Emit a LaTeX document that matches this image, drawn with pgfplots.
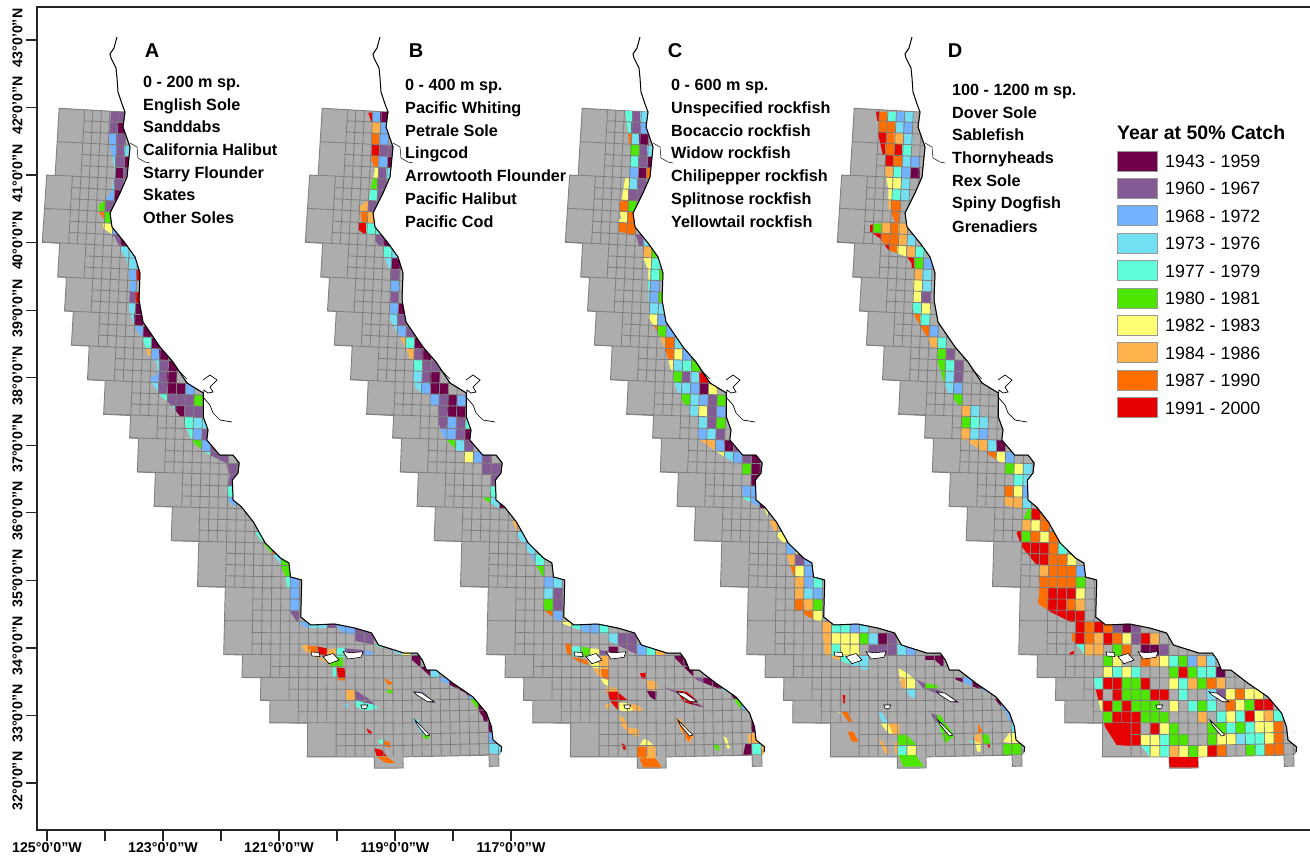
\documentclass[border=0pt]{standalone}
\usepackage{pgfplots}
\usepackage{pgfplotstable}
\usepackage{fontspec}
\setmainfont{Liberation Sans}
\pgfplotsset{compat=1.18}
\definecolor{c0}{HTML}{6E0049}\definecolor{c1}{HTML}{835A94}\definecolor{c2}{HTML}{73B2FF}
\definecolor{c3}{HTML}{73DFF2}\definecolor{c4}{HTML}{5FFFDC}\definecolor{c5}{HTML}{4CE600}
\definecolor{c6}{HTML}{FFFF73}\definecolor{c7}{HTML}{FFB24C}\definecolor{c8}{HTML}{FF6E00}
\definecolor{c9}{HTML}{E60000}\definecolor{gf}{HTML}{ADADAD}\definecolor{gl}{HTML}{808080}
\pgfdeclareplotmark{cell}{\pgfpathrectangle{\pgfpoint{-4.9pt}{-5.7pt}}{\pgfpoint{9.8pt}{11.4pt}}\pgfusepathqfill}
\def\PX{349+(4817+11.23*\thisrow{r})*sin(deg((\thisrow{c}-4.35)*0.001752))}
\def\PY{-4700+(4817+11.23*\thisrow{r})*cos(deg((\thisrow{c}-4.35)*0.001752))}
\def\CX{349+(4817+11.23*(\thisrow{r}+0.5))*sin(deg((\thisrow{c}+0.5-4.35)*0.001752))}
\def\CY{-4700+(4817+11.23*(\thisrow{r}+0.5))*cos(deg((\thisrow{c}+0.5-4.35)*0.001752))}
\pgfplotsset{panelax/.style={scale only axis,width=515pt,height=860pt,xmin=0,xmax=515,ymin=0,ymax=860,y dir=reverse,anchor=south west,hide axis,clip=false}}
\pgfplotstableread[row sep=crcr]{c r\\
-30 0\\-20 0\\-5 0\\10 0\\22 0\\0 2000\\-27 1\\-20 1\\-5 1\\10 1\\22 1\\0 2000\\-27 2\\-20 2\\-5 2\\10 2\\22 2\\0 2000\\
-30 3\\-20 3\\-5 3\\10 3\\22 3\\0 2000\\-27 4\\-20 4\\-5 4\\10 4\\22 4\\0 2000\\-27 5\\-20 5\\-5 5\\10 5\\22 5\\0 2000\\
-31 6\\-20 6\\-5 6\\10 6\\22 6\\0 2000\\-28 7\\-20 7\\-5 7\\10 7\\22 7\\0 2000\\-28 8\\-20 8\\-5 8\\10 8\\22 8\\0 2000\\
-31 9\\-20 9\\-5 9\\10 9\\22 9\\0 2000\\-28 10\\-20 10\\-5 10\\10 10\\22 10\\0 2000\\-28 11\\-20 11\\-5 11\\10 11\\22 11\\0 2000\\
-31 12\\-20 12\\-5 12\\10 12\\22 12\\0 2000\\-26 13\\-20 13\\-5 13\\10 13\\22 13\\0 2000\\-26 14\\-20 14\\-5 14\\10 14\\22 14\\0 2000\\
-29 15\\-20 15\\-5 15\\10 15\\22 15\\0 2000\\-25 16\\-20 16\\-5 16\\10 16\\22 16\\0 2000\\-25 17\\-20 17\\-5 17\\10 17\\22 17\\0 2000\\
-28 18\\-20 18\\-5 18\\10 18\\22 18\\0 2000\\-24 19\\-20 19\\-5 19\\10 19\\22 19\\0 2000\\-24 20\\-20 20\\-5 20\\10 20\\22 20\\0 2000\\
-27 21\\-20 21\\-5 21\\10 21\\22 21\\0 2000\\-22 22\\-20 22\\-5 22\\10 22\\22 22\\0 2000\\-22 23\\-20 23\\-5 23\\10 23\\22 23\\0 2000\\
-25 24\\-20 24\\-5 24\\10 24\\22 24\\0 2000\\-20 25\\-5 25\\10 25\\22 25\\0 2000\\-20 26\\-5 26\\10 26\\22 26\\0 2000\\
-23 27\\-5 27\\10 27\\22 27\\0 2000\\-17 28\\-5 28\\10 28\\22 28\\0 2000\\-20 29\\-5 29\\10 29\\22 29\\0 2000\\
-16 30\\-5 30\\10 30\\22 30\\0 2000\\-16 31\\-5 31\\10 31\\22 31\\0 2000\\-19 32\\-5 32\\10 32\\22 32\\0 2000\\
-14 33\\-5 33\\10 33\\22 33\\0 2000\\-14 34\\-5 34\\10 34\\22 34\\0 2000\\-17 35\\-5 35\\10 35\\22 35\\0 2000\\
-12 36\\-5 36\\10 36\\22 36\\0 2000\\-12 37\\-5 37\\10 37\\22 37\\0 2000\\-15 38\\-5 38\\10 38\\22 38\\0 2000\\
-9 39\\-5 39\\10 39\\22 39\\0 2000\\-9 40\\-5 40\\10 40\\22 40\\0 2000\\-9 41\\-5 41\\10 41\\22 41\\0 2000\\
-12 42\\-5 42\\10 42\\22 42\\0 2000\\-6 43\\10 43\\22 43\\0 2000\\-6 44\\10 44\\22 44\\0 2000\\
-9 45\\10 45\\22 45\\0 2000\\-6 46\\10 46\\22 46\\0 2000\\-6 47\\10 47\\22 47\\0 2000\\
-9 48\\10 48\\22 48\\0 2000\\-4 49\\10 49\\22 49\\0 2000\\-7 50\\10 50\\22 50\\0 2000\\
-2 51\\10 51\\22 51\\0 2000\\-5 52\\10 52\\22 52\\0 2000\\-1 53\\10 53\\22 53\\0 2000\\
-4 54\\10 54\\22 54\\0 2000\\3 55\\10 55\\22 55\\0 2000\\3 56\\10 56\\22 56\\0 2000\\0 57\\10 57\\22 57\\0 2000\\
-28 6\\-28 12\\0 2000\\-27 0\\-27 12\\0 2000\\-26 0\\-26 15\\0 2000\\-25 0\\-25 18\\0 2000\\-24 0\\-24 21\\0 2000\\-23 0\\-23 21\\0 2000\\
-22 0\\-22 24\\0 2000\\-21 0\\-21 24\\0 2000\\-20 0\\-20 27\\0 2000\\-19 0\\-19 27\\0 2000\\-18 0\\-18 27\\0 2000\\-17 0\\-17 29\\0 2000\\
-16 0\\-16 32\\0 2000\\-15 0\\-15 32\\0 2000\\-14 0\\-14 35\\0 2000\\-13 0\\-13 35\\0 2000\\-12 0\\-12 38\\0 2000\\-11 0\\-11 38\\0 2000\\
-10 0\\-10 38\\0 2000\\-9 0\\-9 42\\0 2000\\-8 0\\-8 42\\0 2000\\-7 0\\-7 42\\0 2000\\-6 0\\-6 48\\0 2000\\-5 0\\-5 48\\0 2000\\
-4 0\\-4 50\\0 2000\\-3 0\\-3 50\\0 2000\\-2 0\\-2 52\\0 2000\\-1 0\\-1 54\\0 2000\\0 0\\0 54\\0 2000\\1 0\\1 54\\0 2000\\2 0\\2 54\\0 2000\\
3 0\\3 57\\0 2000\\4 0\\4 57\\0 2000\\5 0\\5 57\\0 2000\\6 0\\6 57\\0 2000\\7 0\\7 57\\0 2000\\8 0\\8 57\\0 2000\\9 0\\9 57\\0 2000\\10 0\\10 57\\0 2000\\
11 0\\11 57\\0 2000\\12 0\\12 57\\0 2000\\13 0\\13 57\\0 2000\\14 0\\14 57\\0 2000\\15 0\\15 57\\0 2000\\16 0\\16 57\\0 2000\\17 0\\17 57\\0 2000\\18 0\\18 57\\0 2000\\19 0\\19 57\\0 2000\\20 0\\20 57\\0 2000\\
}\gridtab
% cells: column, row, class
\pgfplotstableread[row sep=crcr]{c r k\\
-24 0 1\\-23 0 1\\-24 1 1\\-23 1 0\\-24 2 2\\-23 2 1\\-24 3 2\\-23 3 1\\-22 3 3\\-24 4 3\\-23 4 1\\-22 4 0\\-24 5 3\\-23 5 0\\-22 5 1\\-24 6 3\\-23 6 1\\-24 7 2\\-23 7 0\\
-25 8 5\\-24 8 1\\-23 8 1\\-25 9 8\\-24 9 5\\-24 10 6\\-23 10 2\\-24 11 3\\-23 11 1\\-22 11 0\\-22 12 3\\-21 12 3\\-22 13 3\\-21 13 3\\-21 14 2\\-20 14 9\\-21 15 2\\-21 16 1\\-20 16 9\\-21 17 3\\-20 17 0\\-21 18 3\\-20 18 0\\
-20 19 2\\-19 19 0\\-20 20 7\\-19 20 4\\-18 20 0\\-19 21 7\\-18 21 2\\-17 21 0\\-16 21 1\\-18 22 3\\-17 22 1\\-16 22 0\\-18 23 2\\-17 23 1\\-16 23 0\\-18 24 3\\-17 24 1\\-16 24 0\\-15 24 0\\-14 24 2\\
-17 25 4\\-16 25 1\\-15 25 1\\-14 25 1\\-13 25 5\\-16 26 3\\-15 26 0\\-14 26 1\\-13 26 1\\-14 27 4\\-13 27 3\\-12 27 3\\-14 28 4\\-13 28 2\\-12 28 1\\-13 29 5\\-12 29 2\\-11 29 1\\-12 30 4\\-11 30 1\\-10 30 1\\-10 31 1\\-9 31 1\\-8 31 1\\-9 32 1\\-8 32 1\\-9 33 4\\-9 34 2\\
-6 37 4\\-5 38 5\\-4 38 8\\-4 39 3\\-3 39 5\\-3 40 5\\-3 41 4\\-2 41 2\\-2 42 2\\-2 43 2\\-3 44 1\\-2 44 1\\-1 45 2\\0 45 3\\1 45 3\\2 45 1\\3 45 2\\4 45 2\\5 45 1\\6 45 1\\5 46 1\\6 46 1\\6 47 1\\7 47 4\\9 47 3\\10 47 6\\11 48 0\\11 49 0\\12 49 0\\13 49 3\\14 50 2\\15 50 0\\16 51 0\\17 51 2\\17 52 5\\18 52 0\\18 53 0\\19 54 0\\19 55 2\\19 56 3\\20 56 3\\
}\cellsA
\pgfplotstableread[row sep=crcr]{c r k\\
-25 0 9\\-24 0 2\\-23 0 0\\-24 1 7\\-23 1 2\\-24 2 8\\-23 2 2\\-24 3 9\\-23 3 1\\-22 3 1\\-24 4 8\\-23 4 2\\-22 4 0\\-24 5 6\\-23 5 1\\-22 5 3\\-24 6 5\\-23 6 1\\-24 7 4\\-23 7 1\\-25 8 7\\-24 8 1\\-23 8 1\\-25 9 8\\-24 9 7\\-25 10 9\\-24 10 4\\-23 10 4\\-23 11 1\\-22 11 0\\-22 12 4\\-21 12 3\\-22 13 3\\-21 13 0\\-21 14 1\\-21 15 2\\-21 16 1\\-21 17 2\\-20 17 0\\-21 18 3\\-20 18 1\\-21 19 3\\-20 19 2\\-19 19 1\\-20 20 7\\-19 20 4\\-18 20 0\\-19 21 7\\-18 21 1\\-17 21 0\\-18 22 4\\-17 22 1\\-16 22 1\\-18 23 3\\-17 23 1\\-16 23 0\\-18 24 3\\-17 24 2\\-16 24 0\\-15 24 0\\
-16 25 2\\-15 25 1\\-14 25 0\\-13 25 2\\-15 26 1\\-14 26 0\\-13 26 0\\-15 27 1\\-14 27 2\\-13 27 1\\-12 27 4\\-15 28 2\\-14 28 2\\-13 28 1\\-12 28 0\\-14 29 5\\-13 29 3\\-12 29 1\\-12 30 6\\-11 30 2\\-10 30 1\\-10 31 1\\-9 31 1\\-8 31 1\\-9 32 1\\-8 32 1\\-9 33 4\\-10 34 5\\-9 34 3\\-8 34 0\\-7 36 7\\-6 37 3\\-5 38 3\\-6 39 8\\-5 39 2\\-4 39 4\\-4 40 5\\-3 41 2\\-2 41 3\\-3 42 3\\-2 42 1\\-3 43 5\\-2 43 1\\-3 44 8\\-2 44 2\\-1 45 6\\0 45 4\\1 45 2\\2 45 2\\3 45 4\\4 46 3\\5 46 1\\6 46 1\\5 47 1\\6 47 1\\7 47 2\\8 47 4\\9 47 7\\11 48 0\\12 48 0\\12 49 0\\13 50 1\\14 50 0\\15 50 0\\16 51 3\\17 51 0\\17 52 5\\18 52 2\\19 53 0\\19 54 0\\19 55 7\\18 56 0\\19 56 4\\20 56 7\\
}\cellsB
\pgfplotstableread[row sep=crcr]{c r k\\
-25 0 4\\-24 0 1\\-23 0 3\\-25 1 4\\-24 1 1\\-23 1 2\\-25 2 8\\-24 2 3\\-23 2 0\\-24 3 5\\-23 3 1\\-22 3 3\\-24 4 4\\-23 4 1\\-22 4 0\\-24 5 2\\-23 5 0\\-22 5 8\\-25 6 6\\-24 6 3\\-23 6 1\\-25 7 6\\-24 7 1\\-23 7 1\\-25 8 8\\-24 8 5\\-25 9 6\\-24 9 8\\-25 10 8\\-24 10 8\\-23 11 1\\-22 11 3\\-22 12 7\\-21 12 5\\-22 13 6\\-21 13 4\\-22 14 6\\-21 14 4\\-20 14 5\\-22 15 4\\-21 15 2\\-22 16 4\\-21 16 2\\-20 16 5\\-21 17 3\\-20 17 3\\-21 18 6\\-20 18 2\\-21 19 8\\-20 19 5\\-19 19 2\\-20 20 7\\-19 20 8\\-18 20 3\\-19 21 8\\-18 21 6\\-17 21 2\\-16 21 5\\-19 22 6\\-18 22 3\\-17 22 4\\-16 22 5\\-18 23 5\\-17 23 1\\-16 23 3\\-15 23 9\\-18 24 3\\-17 24 3\\-16 24 2\\-15 24 0\\-14 24 6\\
-17 25 5\\-16 25 3\\-15 25 2\\-14 25 1\\-13 25 5\\-16 26 3\\-15 26 6\\-14 26 1\\-13 26 2\\-15 27 3\\-14 27 1\\-13 27 5\\-15 28 2\\-14 28 3\\-13 28 1\\-15 29 7\\-14 29 7\\-13 29 2\\-12 29 0\\-11 29 1\\-13 30 6\\-12 30 3\\-11 30 2\\-10 30 1\\-9 30 0\\-10 31 5\\-9 31 0\\-9 32 0\\-8 32 1\\
-10 33 2\\-9 33 2\\-10 34 4\\-9 34 2\\-8 34 0\\-8 35 6\\-7 36 7\\-6 37 6\\-5 38 2\\-4 38 6\\-5 39 7\\-4 39 1\\-3 39 2\\-5 40 8\\-4 40 6\\-3 40 2\\-4 41 7\\-3 41 2\\-2 41 4\\-4 42 7\\-3 42 3\\-2 42 2\\-4 43 8\\-3 43 7\\-2 43 5\\-3 44 8\\-2 44 6\\-1 45 7\\0 45 4\\1 45 4\\2 45 2\\3 45 3\\-1 46 7\\0 46 6\\1 46 6\\2 46 6\\3 46 5\\4 46 3\\5 46 0\\6 46 1\\-1 47 7\\0 47 4\\1 47 6\\2 47 6\\4 47 1\\5 47 1\\6 47 1\\7 47 3\\8 47 2\\0 48 7\\1 48 4\\2 48 3\\3 48 3\\10 48 0\\11 48 0\\2 49 7\\3 49 3\\3 50 6\\4 50 7\\13 50 0\\14 50 2\\15 50 0\\4 51 3\\5 51 5\\16 51 2\\17 52 0\\18 52 2\\18 53 2\\19 54 3\\19 55 6\\18 56 5\\19 56 5\\
}\cellsC
\pgfplotstableread[row sep=crcr]{c r k\\
-28 0 9\\-27 0 8\\-26 0 4\\-25 0 2\\-24 0 3\\-27 1 8\\-26 1 8\\-25 1 3\\-24 1 2\\-27 2 9\\-26 2 8\\-25 2 7\\-24 2 3\\-27 3 9\\-26 3 8\\-25 3 9\\-24 3 4\\-26 4 9\\-25 4 8\\-24 4 3\\-23 4 2\\-26 5 7\\-25 5 4\\-24 5 2\\-23 5 0\\-26 6 6\\-25 6 6\\-24 6 3\\-26 7 6\\-25 7 4\\-24 7 3\\-26 8 7\\-25 8 8\\-25 9 8\\-28 10 9\\-27 10 5\\-26 10 7\\-25 10 8\\-24 10 7\\-27 11 9\\-26 11 8\\-25 11 8\\-24 11 7\\-23 11 3\\-26 12 9\\-25 12 8\\-24 12 6\\-23 12 7\\-22 12 4\\
-23 13 9\\-22 13 5\\-21 13 2\\-22 14 7\\-21 14 3\\-22 15 6\\-21 15 3\\-22 16 6\\-21 16 1\\-22 17 4\\-21 17 6\\-22 18 8\\-21 18 4\\-21 19 8\\-20 19 2\\-20 20 7\\-19 20 4\\-19 21 5\\-18 21 1\\-19 22 5\\-18 22 4\\-17 22 1\\-19 23 5\\-18 23 3\\-17 23 1\\-18 24 3\\-17 24 2\\-17 25 5\\-16 26 7\\-15 26 3\\-16 27 5\\-15 27 4\\-14 27 3\\-16 28 7\\-15 28 3\\-14 28 2\\-15 29 7\\-14 29 7\\-13 29 3\\-12 29 0\\-13 30 8\\-12 30 6\\-11 30 2\\-11 31 5\\-10 31 6\\-9 31 3\\-10 32 4\\-9 32 3\\
-11 33 8\\-10 33 6\\-9 33 2\\-11 34 7\\-10 34 7\\-9 34 3\\-9 35 5\\-8 35 9\\-7 35 8\\-9 36 7\\-8 36 6\\-7 36 8\\-10 37 9\\-9 37 5\\-8 37 8\\-7 37 6\\-6 37 8\\-9 38 9\\-8 38 9\\-7 38 9\\-6 38 8\\-5 38 4\\-9 39 9\\-8 39 9\\-7 39 9\\-6 39 8\\-5 39 8\\-4 39 6\\-7 40 7\\-6 40 8\\-5 40 8\\-4 40 8\\-3 40 2\\-7 41 8\\-6 41 8\\-5 41 8\\-4 41 8\\-3 41 5\\-7 42 8\\-6 42 9\\-5 42 9\\-4 42 9\\-3 42 6\\-7 43 8\\-6 43 9\\-5 43 9\\-4 43 8\\-3 43 7\\-6 44 9\\-5 44 9\\-4 44 9\\-3 44 9\\
-3 45 9\\-2 45 8\\-1 45 9\\0 45 8\\1 45 1\\2 45 0\\3 45 1\\-4 46 8\\-3 46 9\\-2 46 8\\-1 46 7\\0 46 9\\1 46 8\\2 46 6\\3 46 1\\4 46 9\\5 46 7\\-3 47 4\\-2 47 7\\-1 47 7\\1 47 5\\2 47 8\\4 47 0\\5 47 0\\6 47 1\\0 48 5\\1 48 6\\4 48 8\\5 48 7\\6 48 6\\7 48 4\\8 48 5\\9 48 2\\10 48 7\\11 48 3\\0 49 6\\1 49 4\\2 49 6\\3 49 4\\7 49 5\\8 49 9\\9 49 5\\10 49 4\\11 49 4\\12 49 0\\
-1 50 4\\0 50 9\\1 50 9\\2 50 5\\3 50 5\\4 50 9\\7 50 6\\8 50 4\\9 50 7\\10 50 5\\11 50 8\\12 50 7\\-1 51 9\\1 51 9\\2 51 5\\3 51 5\\4 51 5\\5 51 9\\6 51 9\\8 51 4\\11 51 3\\12 51 1\\13 51 6\\14 51 8\\15 51 6\\16 51 6\\-1 52 6\\0 52 9\\1 52 5\\2 52 9\\3 52 5\\4 52 5\\5 52 5\\7 52 6\\9 52 4\\10 52 5\\11 52 4\\13 52 8\\14 52 6\\15 52 5\\16 52 9\\17 52 9\\
0 53 5\\1 53 9\\2 53 9\\3 53 9\\4 53 5\\5 53 5\\6 53 5\\10 53 7\\12 53 4\\13 53 6\\14 53 4\\15 53 9\\16 53 6\\17 53 7\\18 53 4\\0 54 9\\1 54 9\\2 54 9\\3 54 9\\5 54 9\\6 54 6\\7 54 5\\11 54 5\\12 54 5\\13 54 4\\14 54 5\\15 54 4\\16 54 6\\17 54 6\\18 54 8\\0 55 9\\1 55 9\\2 55 9\\3 55 9\\4 55 6\\5 55 6\\6 55 4\\7 55 5\\8 55 5\\11 55 5\\12 55 6\\13 55 6\\14 55 3\\15 55 4\\16 55 4\\17 55 6\\18 55 8\\1 56 9\\2 56 9\\4 56 4\\5 56 6\\6 56 4\\7 56 7\\8 56 6\\9 56 5\\10 56 6\\11 56 9\\12 56 8\\15 56 5\\16 56 4\\17 56 8\\18 56 8\\7 57 9\\8 57 9\\9 57 9\\
}\cellsD
\def\coastpath{-- (501,752) -- (501.7,747) -- (493,740) -- (491.5,727) -- (486.5,713) -- (473,697) -- (452.7,683) -- (435.8,670) -- (426.4,670) -- (422.3,660) -- (417.2,653) -- (403.7,653) -- (378.4,645) -- (371.6,633) -- (354.7,628) -- (334.5,624) -- (310.8,625) -- (300.7,617) -- (301.7,580) -- (290.5,577) -- (288.9,563) -- (280.4,558) -- (265.2,543) -- (253.4,522) -- (241.6,507) -- (233,500) -- (232.4,480) -- (238,473) -- (239.2,463) -- (233,455) -- (219.6,455) -- (206.8,440) -- (208,430) -- (203.3,417) -- (203.3,393) -- (187,383) -- (173,362) -- (160,347) -- (143,322) -- (139,300) -- (140,273) -- (135,257) -- (125,243) -- (112,227) -- (110,213) -- (120,193) -- (127,177) -- (130,147) -- (123,127) -- (125,112)}
\def\bandA{(111,112) -- (110,127) -- (109,133) -- (110,147) -- (113,160) -- (115,173) -- (112,190) -- (106,200) -- (98.7,205) -- (99.3,213) -- (105,220) -- (101.7,227) -- (110,233) -- (115,237) -- (120,248) -- (128,263) -- (130,283) -- (129,310) -- (135,328) -- (143,340) -- (148,355) -- (157,363) -- (157,375) -- (150,377) -- (152,383) -- (160,395) -- (173,407) -- (183,420) -- (192.6,442) -- (206,453) -- (226,463) -- (230,475) -- (224.7,498) -- (233,505) -- (243,508) -- (253,527) -- (257,535) -- (265,545) -- (275,557) -- (280,563) -- (285.5,577) -- (289,597) -- (289,610) -- (297,622) -- (307,628) -- (338,628) -- (351,640) -- (375,645) -- (402,655) -- (412,660) -- (425.7,672) -- (432,678) -- (446,683) -- (466,693) -- (483,717) -- (486,733) -- (481,747) -- (489,753) -- (499,754)}
\def\bandB{(105.3,112.7) -- (108.7,123.3) -- (108.7,160) -- (112,170) -- (105.3,200) -- (97,206.7) -- (98.7,221.7) -- (88.7,225) -- (100.3,233.3) -- (112,240) -- (118.7,250) -- (125.3,266.7) -- (127.7,290) -- (127,320) -- (137,336.7) -- (145.3,353.3) -- (150.3,376.7) -- (152,386.7) -- (170.3,406.7) -- (180.3,436.7) -- (197,453.3) -- (222,500) -- (233.7,506.7) -- (250.3,521.7) -- (255.3,536.7) -- (268.7,556.7) -- (280.3,578.3) -- (280.3,610) -- (298.7,623.3) -- (343.7,640) -- (375.3,655) -- (412,658) -- (433.7,680) -- (467,693) -- (480.3,713) -- (483.7,736.7) -- (480.3,755) -- (500.3,755)}
\def\bandC{(102,110.7) -- (105.3,133.3) -- (107,156.7) -- (102,180) -- (98.7,200) -- (94.3,207.3) -- (98.7,218.3) -- (87,223.3) -- (97,231.7) -- (113.7,236.7) -- (117,250) -- (125.3,270) -- (125.3,316.7) -- (135.3,333.3) -- (143.7,353.3) -- (148.7,373.3) -- (153.7,390) -- (170.3,420) -- (177,440) -- (193.7,451.7) -- (217,466.7) -- (220.3,498.3) -- (242,510) -- (247,521.7) -- (252,533.3) -- (260.3,543.3) -- (267,565) -- (272,580) -- (272,610) -- (298.7,623.3) -- (302,655) -- (342,670) -- (373.7,660) -- (412,660) -- (433.7,680) -- (467,693.3) -- (483.7,713.3) -- (487,726.7) -- (480.3,743.3) -- (480.3,755) -- (500.3,755)}
\def\bandD{(81,111.7) -- (82.3,121.7) -- (83.3,135) -- (88.3,156.7) -- (90,170) -- (93.3,190) -- (93.3,206.7) -- (100,221.7) -- (85,223.3) -- (75,225) -- (75,231.7) -- (85,238.3) -- (93.3,250) -- (111.7,256.7) -- (116.7,263.3) -- (115.7,300) -- (120,316.7) -- (131.7,336.7) -- (140,353) -- (148.3,380) -- (153.3,393) -- (165,406.7) -- (165,440) -- (178,445) -- (205,462) -- (208,497) -- (210,505) -- (225,510) -- (233.3,508.3) -- (221.7,533.3) -- (226.7,546.7) -- (241.7,565) -- (245,586.7) -- (240,601.7) -- (255,611.7) -- (278.3,623.3) -- (276.7,640) -- (286.7,650) -- (298.3,678.3) -- (301.7,693.3) -- (310,726.7) -- (321.7,745) -- (346.7,746.7) -- (355,756.7) -- (373.3,756.7) -- (375,767.3) -- (403.3,767.3) -- (403.3,756.7) -- (490,755) -- (500,746.7)}
\newcommand\pa[2]{\addplot[fill=c#1,draw=none] table[row sep=crcr,x expr=\zox+\thisrow{x}/\zsx,y expr=\zoy+\thisrow{y}/3]{x y\\#2};}
\newcommand\base[1]{%
\begin{axis}[panelax,at={(#1pt,0pt)}]
\addplot[fill=gf,draw=gl,line width=.9pt] coordinates {(59.2,108.3)(55.1,175.6)(46.7,175)(42.3,242.3)(59.7,243.3)(57.7,277)(66.5,277.5)(64.5,311)(73.3,311.5)(71.4,345.2)(89.2,346.1)(87.5,379.8)(105.3,380.7)(103.6,414.3)(130.6,415.5)(129.6,438)(138.6,438.4)(137.3,472)(155.4,472.8)(154.1,506.4)(172.4,507)(171.2,540.7)(198.8,541.5)(197.5,586.5)(225.3,587.3)(223.7,654.5)(242.5,655)(242,677.5)(260.9,677.8)(260.5,700.3)(270,700.6)(269.7,722.8)(307.7,723.2)(307.4,756.9)(374.3,757)(374.4,768.2)(403.1,768)(403,756.9)(489,755.2)(489.4,766.4)(499,766.1)(498.7,754.9)(501,752)(501.7,747)(493,740)(491.5,727)(486.5,713)(473,697)(452.7,683)(435.8,670)(426.4,670)(422.3,660)(417.2,653)(403.7,653)(378.4,645)(371.6,633)(354.7,628)(334.5,624)(310.8,625)(300.7,617)(301.7,580)(290.5,577)(288.9,563)(280.4,558)(265.2,543)(253.4,522)(241.6,507)(233,500)(232.4,480)(238,473)(239.2,463)(233,455)(219.6,455)(206.8,440)(208,430)(203.3,417)(203.3,393)(187,383)(173,362)(160,347)(143,322)(139,300)(140,273)(135,257)(125,243)(112,227)(110,213)(120,193)(127,177)(130,147)(123,127)(125,112)} -- cycle;
\end{axis}}
\newcommand\cells[3]{%
\begin{scope}
\clip[x=1pt,y=-1pt,shift={(#1pt,860pt)}] #2 \coastpath -- cycle;
\begin{axis}[panelax,at={(#1pt,0pt)}]
\addplot[scatter,only marks,scatter src=explicit symbolic,scatter/classes={0={mark=cell,fill=c0,draw=none},1={mark=cell,fill=c1,draw=none},2={mark=cell,fill=c2,draw=none},3={mark=cell,fill=c3,draw=none},4={mark=cell,fill=c4,draw=none},5={mark=cell,fill=c5,draw=none},6={mark=cell,fill=c6,draw=none},7={mark=cell,fill=c7,draw=none},8={mark=cell,fill=c8,draw=none},9={mark=cell,fill=c9,draw=none}}] table[x expr=\CX,y expr=\CY,meta=k] {#3};
\end{axis}
\end{scope}}
\newcommand\gridd[1]{%
\begin{scope}
\clip[x=1pt,y=-1pt,shift={(#1pt,860pt)}] (59.2,108.3) -- (55.1,175.6) -- (46.7,175) -- (42.3,242.3) -- (59.7,243.3) -- (57.7,277) -- (66.5,277.5) -- (64.5,311) -- (73.3,311.5) -- (71.4,345.2) -- (89.2,346.1) -- (87.5,379.8) -- (105.3,380.7) -- (103.6,414.3) -- (130.6,415.5) -- (129.6,438) -- (138.6,438.4) -- (137.3,472) -- (155.4,472.8) -- (154.1,506.4) -- (172.4,507) -- (171.2,540.7) -- (198.8,541.5) -- (197.5,586.5) -- (225.3,587.3) -- (223.7,654.5) -- (242.5,655) -- (242,677.5) -- (260.9,677.8) -- (260.5,700.3) -- (270,700.6) -- (269.7,722.8) -- (307.7,723.2) -- (307.4,756.9) -- (498.7,754.9) \coastpath -- cycle;
\begin{axis}[panelax,at={(#1pt,0pt)}]
\addplot[draw=gl,line width=.85pt,unbounded coords=jump,restrict y to domain=0:860] table[x expr=\PX,y expr=\PY] {\gridtab};
\end{axis}
\end{scope}}
\newcommand\topp[1]{%
\begin{axis}[panelax,at={(#1pt,0pt)}]
\addplot[fill=white,draw=black,line width=.6pt] coordinates {(311,652)(319,652.5)(320,656.5)(312,656)} -- cycle;
\addplot[fill=white,draw=black,line width=.6pt] coordinates {(323,656.7)(333,653.5)(339,660)(329,663.7)} -- cycle;
\addplot[fill=white,draw=black,line width=.6pt] coordinates {(343,651.7)(351,652.7)(363,651.7)(361,657.3)(348,659)} -- cycle;
\addplot[fill=white,draw=black,line width=.6pt] coordinates {(360.8,705)(367.6,705)(366.6,708.3)(362,708.3)} -- cycle;
\addplot[fill=white,draw=black,line width=.6pt] coordinates {(413.9,691.7)(422.3,693.3)(434,701.7)(427.4,701.7)(417,695)} -- cycle;
\addplot[fill=white,draw=black,line width=.6pt] coordinates {(414.9,720)(429.7,735)(426.4,736)(417.2,725)} -- cycle;
\addplot[draw=black,line width=1pt] coordinates {(501,752)(501.7,747)(493,740)(491.5,727)(486.5,713)(473,697)(452.7,683)(435.8,670)(426.4,670)(422.3,660)(417.2,653)(403.7,653)(378.4,645)(371.6,633)(354.7,628)(334.5,624)(310.8,625)(300.7,617)(301.7,580)(290.5,577)(288.9,563)(280.4,558)(265.2,543)(253.4,522)(241.6,507)(233,500)(232.4,480)(238,473)(239.2,463)(233,455)(219.6,455)(206.8,440)(208,430)(203.3,417)(203.3,393)(187,383)(173,362)(160,347)(143,322)(139,300)(140,273)(135,257)(125,243)(112,227)(110,213)(120,193)(127,177)(130,147)(123,127)(125,112)(122,104)(118,92)(117,78)(116,68)(111,58)(110,54)(114,48)(117,37)};
\addplot[draw=black,line width=.5pt] coordinates {(130,143)(137,147)(138,158)(145,162)(150,163)};
\addplot[draw=black,line width=.6pt] coordinates {(177,369)(187,379)};
\addplot[draw=black,line width=.7pt] coordinates {(203,380)(210,375)(217,380)(210,387)(213,392)(208,393)(204,390)(203,397)(210,405)(213,413)(220,420)(232,422)};
\end{axis}}
\begin{document}
\begin{tikzpicture}
\useasboundingbox (0,0) rectangle (1310pt,860pt);
\begin{axis}[at={(37pt,30pt)},anchor=south west,scale only axis,width=1275pt,height=823pt,
 xmin=-125.172,xmax=-103.19,ymin=31.304,ymax=43.489,axis line style={line width=1.2pt,color=black!85},
 tick align=outside,xtick pos=bottom,ytick pos=left,major tick length=11pt,tick style={line width=1.3pt,color=black!85},
 xtick={-125,-124,-123,-122,-121,-120,-119,-118,-117},ytick={32,33,34,35,36,37,38,39,40,41,42,43},
 xticklabels={125°0'0"W,,123°0'0"W,,121°0'0"W,,119°0'0"W,,117°0'0"W},
 yticklabels={32°0'0"N,33°0'0"N,34°0'0"N,35°0'0"N,36°0'0"N,37°0'0"N,38°0'0"N,39°0'0"N,40°0'0"N,41°0'0"N,42°0'0"N,43°0'0"N},
 ticklabel style={font=\fontsize{14.2}{16}\selectfont\bfseries},
 yticklabel style={rotate=90,anchor=south,xshift=2pt},xticklabel style={yshift=1.5pt}]
\end{axis}
\base{0}\base{263}\base{523}\base{795}
\cells{0}{\bandA}{\cellsA}\cells{263}{\bandB}{\cellsB}\cells{523}{\bandC}{\cellsC}\cells{795}{\bandD}{\cellsD}
% island patches
\def\zox{0}\def\zoy{430}\def\zsx{2.96}
\begin{axis}[panelax,at={(0pt,0pt)}]
\pa7{893 650\\912 640\\925 675\\905 665\\}\pa8{912 648\\940 648\\942 672\\925 678\\}\pa9{940 650\\968 655\\968 680\\945 672\\}\pa7{968 658\\995 655\\997 682\\968 680\\}\pa7{925 675\\965 690\\985 700\\970 700\\}\pa4{995 655\\1020 652\\1020 680\\997 682\\}\pa1{1020 655\\1075 660\\1110 668\\1060 675\\1020 668\\}\pa2{1075 660\\1110 668\\1085 680\\}\pa5{970 698\\995 682\\1015 682\\1015 712\\985 712\\}\pa4{985 712\\997 712\\997 745\\985 735\\}\pa9{997 712\\1020 715\\1022 745\\1000 745\\}\pa8{1000 745\\1022 745\\1020 752\\1000 750\\}\pa7{1022 780\\1050 778\\1052 810\\1025 812\\}\pa1{1050 780\\1090 805\\1110 825\\1052 810\\}\pa4{1052 812\\1110 825\\1120 835\\1080 842\\1055 830\\}\pa3{1018 822\\1030 822\\1030 835\\}\pa8{1135 745\\1165 760\\1150 765\\}\pa7{1145 768\\1160 775\\1150 780\\}\pa5{1145 780\\1165 780\\1160 790\\1148 790\\}\pa1{1225 785\\1250 785\\1290 820\\1265 815\\}\pa3{1222 868\\1235 868\\1270 920\\1250 915\\}\pa5{1250 915\\1275 915\\1262 930\\}\pa9{1085 895\\1100 905\\1100 912\\1090 908\\}\pa4{1120 930\\1135 928\\1135 942\\1122 940\\}\pa8{1135 932\\1155 937\\1155 955\\1135 945\\}\pa9{1108 955\\1130 960\\1145 978\\1115 978\\}\pa8{1115 980\\1145 980\\1172 1000\\1140 998\\}
\end{axis}
\def\zox{217}\def\zoy{480}\def\zsx{3}
\begin{axis}[panelax,at={(263pt,0pt)}]
\pa8{255 490\\275 490\\275 530\\262 522\\}\pa4{275 500\\305 500\\305 530\\280 530\\}\pa5{305 500\\330 505\\330 530\\305 530\\}\pa6{330 505\\358 507\\358 530\\330 530\\}\pa1{358 510\\385 515\\385 525\\360 525\\}\pa0{385 500\\415 500\\415 518\\385 520\\}\pa8{275 530\\320 540\\325 555\\295 545\\}\pa7{360 530\\388 525\\388 568\\350 565\\}\pa6{325 545\\360 550\\362 565\\340 565\\}\pa8{362 568\\387 568\\387 600\\365 590\\}\pa7{340 565\\362 568\\365 590\\355 590\\}\pa6{362 595\\385 600\\385 618\\372 612\\}\pa7{380 620\\415 625\\418 640\\380 640\\}\pa9{382 635\\415 635\\415 665\\392 665\\}\pa9{392 665\\415 665\\415 692\\}\pa9{415 638\\442 660\\415 665\\}\pa6{418 668\\445 670\\465 690\\430 695\\418 690\\}\pa7{375 675\\392 670\\385 692\\}\pa7{445 672\\475 675\\488 690\\465 695\\}\pa9{480 580\\497 578\\497 597\\485 595\\}\pa7{498 600\\530 605\\530 632\\505 630\\}\pa0{500 632\\530 635\\528 662\\510 650\\}\pa1{550 622\\600 635\\670 680\\640 665\\590 640\\}\pa9{590 632\\620 635\\650 660\\640 675\\610 665\\}\pa0{610 665\\650 672\\670 682\\}\pa7{590 715\\602 718\\640 770\\625 790\\600 745\\}\pa8{590 720\\600 730\\635 770\\625 785\\}\pa7{415 705\\432 715\\448 745\\475 745\\478 770\\450 765\\425 735\\}\pa6{490 778\\500 778\\520 795\\480 795\\}\pa8{470 800\\500 800\\500 835\\470 830\\}\pa7{500 798\\527 800\\527 835\\500 835\\}\pa8{478 835\\527 835\\545 862\\490 862\\}\pa9{425 790\\437 795\\437 810\\430 808\\}\pa6{730 768\\740 775\\750 805\\742 805\\}\pa5{700 795\\715 792\\718 812\\708 810\\}\pa7{805 762\\815 762\\815 790\\805 790\\}
\end{axis}
\begin{axis}[panelax,at={(523pt,0pt)}]
\pa6{475 565\\500 578\\525 600\\525 625\\495 625\\480 600\\}\pa7{483 595\\497 597\\497 625\\483 620\\}\pa3{495 625\\528 628\\528 655\\510 650\\}\pa1{528 598\\555 610\\600 632\\660 668\\645 668\\590 640\\550 625\\}\pa5{555 610\\592 615\\592 625\\555 625\\}\pa3{415 695\\425 697\\445 730\\430 735\\}\pa6{422 730\\445 730\\460 765\\445 760\\}\pa7{445 730\\478 730\\478 765\\460 765\\}\pa5{472 765\\500 765\\530 795\\527 825\\500 795\\472 795\\}\pa7{463 790\\475 785\\475 825\\465 820\\}\pa4{475 795\\500 795\\500 825\\475 825\\}\pa6{500 795\\527 795\\527 825\\500 825\\}\pa5{475 825\\527 825\\552 860\\490 860\\}\pa1{572 700\\590 705\\600 735\\585 725\\}\pa5{590 705\\600 705\\635 755\\640 770\\615 790\\600 745\\}\pa4{590 720\\600 745\\610 760\\605 755\\}\pa8{323 755\\340 755\\355 785\\335 785\\}\pa8{305 695\\322 695\\338 725\\325 725\\}\pa6{293 695\\303 695\\303 705\\}\pa9{308 645\\315 645\\315 670\\310 670\\}\pa7{415 775\\432 790\\448 820\\435 820\\}\pa7{705 765\\722 757\\725 795\\705 785\\}\pa5{725 760\\745 765\\752 795\\730 790\\}\pa6{705 785\\722 790\\722 815\\712 815\\}\pa4{680 780\\705 785\\700 790\\}\pa8{715 730\\727 755\\715 760\\}\pa9{740 792\\750 795\\748 805\\}\pa6{790 785\\810 755\\815 790\\}
\end{axis}
\def\zox{155}\def\zoy{480}
\begin{axis}[panelax,at={(795pt,0pt)}]
\pa9{358 520\\370 512\\372 522\\360 527\\}
\end{axis}
\gridd{0}\gridd{263}\gridd{523}\gridd{795}
\topp{0}\topp{263}\topp{523}\topp{795}
% texts
\newcommand\tl[3]{\node[anchor=base west,inner sep=0pt,font=\fontsize{16.2}{18}\selectfont\bfseries] at (#1pt,860pt-#2pt-5.5pt) {#3};}
\newcommand\hd[3]{\node[inner sep=0pt,font=\fontsize{20}{22}\selectfont\bfseries] at (#1pt,860pt-#2pt) {#3};}
\hd{152}{51}{A}\hd{416}{51}{B}\hd{675}{51}{C}\hd{955}{51}{D}
\tl{143}{82}{0 - 200 m sp.}\tl{143}{105}{English Sole}\tl{143}{127}{Sanddabs}\tl{143}{150}{California Halibut}\tl{143}{173}{Starry Flounder}\tl{143}{195}{Skates}\tl{143}{218}{Other Soles}
\tl{405}{85}{0 - 400 m sp.}\tl{405}{108}{Pacific Whiting}\tl{405}{131}{Petrale Sole}\tl{405}{153}{Lingcod}\tl{405}{176}{Arrowtooth Flounder}\tl{405}{199}{Pacific Halibut}\tl{405}{222}{Pacific Cod}
\tl{671}{85}{0 - 600 m sp.}\tl{671}{108}{Unspecified rockfish}\tl{671}{131}{Bocaccio rockfish}\tl{671}{153}{Widow rockfish}\tl{671}{176}{Chilipepper rockfish}\tl{671}{199}{Splitnose rockfish}\tl{671}{222}{Yellowtail rockfish}
\tl{952}{90}{100 - 1200 m sp.}\tl{952}{113}{Dover Sole}\tl{952}{135}{Sablefish}\tl{952}{158}{Thornyheads}\tl{952}{181}{Rex Sole}\tl{952}{203}{Spiny Dogfish}\tl{952}{227}{Grenadiers}
\node[anchor=base west,inner sep=0pt,font=\fontsize{19.5}{21}\selectfont\bfseries] at (1117pt,860pt-140pt) {Year at 50\% Catch};
\newcommand\lgd[3]{\filldraw[fill=c#1,draw=black!40,line width=.7pt] (1117pt,860pt-#2pt) rectangle (1157pt,860pt-#2pt-20pt);\node[anchor=base west,inner sep=0pt,font=\fontsize{17.8}{20}\selectfont] at (1165pt,860pt-#2pt-16.5pt) {#3};}
\lgd0{151}{1943 - 1959}\lgd1{178.4}{1960 - 1967}\lgd2{205.8}{1968 - 1972}\lgd3{233.2}{1973 - 1976}\lgd4{260.6}{1977 - 1979}\lgd5{288}{1980 - 1981}\lgd6{315.4}{1982 - 1983}\lgd7{342.8}{1984 - 1986}\lgd8{370.2}{1987 - 1990}\lgd9{397.6}{1991 - 2000}
\end{tikzpicture}
\end{document}
